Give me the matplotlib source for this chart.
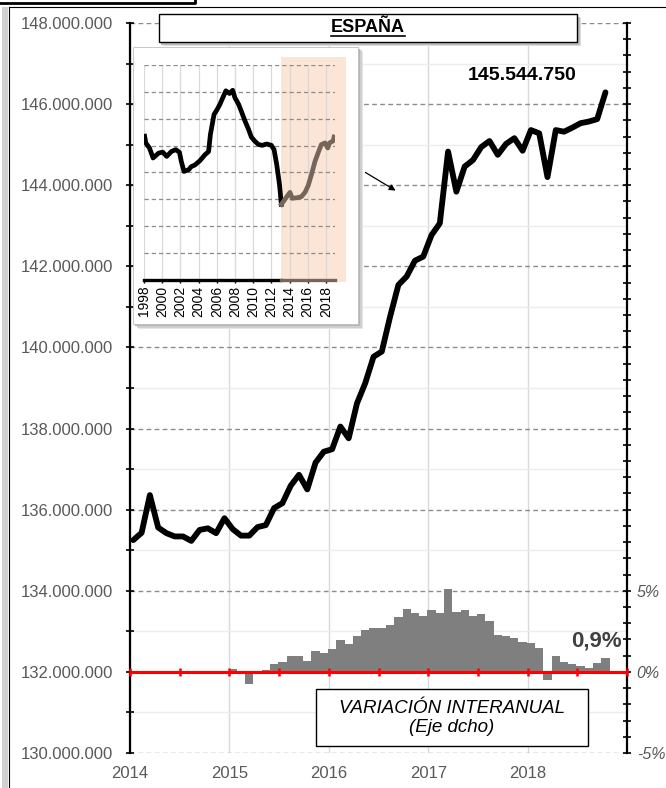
import numpy as np
import pandas as pd
import matplotlib
matplotlib.use('Agg')
import matplotlib.pyplot as plt
from matplotlib.patches import Rectangle
from matplotlib.lines import Line2D
from matplotlib.ticker import FuncFormatter, MultipleLocator

plt.rcParams['font.family'] = ['Liberation Sans', 'DejaVu Sans']

# serie mensual (millones), ene-2014 a oct-2018
fechas = pd.date_range('2014-01-01', periods=58, freq='MS')
valores = [135.25, 135.43, 136.36, 135.56, 135.42, 135.34, 135.34, 135.23, 135.50, 135.54,
           135.42, 135.79, 135.52, 135.36, 135.36, 135.57, 135.62, 136.04, 136.16, 136.59,
           136.86, 136.50, 137.16, 137.43, 137.49, 138.05, 137.76, 138.62, 139.12, 139.77,
           139.90, 140.76, 141.54, 141.75, 142.14, 142.24, 142.77, 143.06, 144.83, 143.84,
           144.46, 144.62, 144.94, 145.09, 144.75, 145.02, 145.16, 144.85, 145.36, 145.28,
           144.20, 145.36, 145.32, 145.42, 145.53, 145.57, 145.63, 146.29]

# variacion interanual (%), ene-2015 a oct-2018
var_interanual = [0.16, -0.05, -0.72, 0.02, 0.10, 0.47, 0.58, 1.00, 0.99, 0.68, 1.28, 1.19,
                  1.44, 1.95, 1.75, 2.22, 2.57, 2.70, 2.72, 2.92, 3.40, 3.85, 3.60, 3.44,
                  3.83, 3.64, 5.10, 3.72, 3.81, 3.46, 3.58, 3.13, 2.26, 2.24, 2.10, 1.83,
                  1.77, 1.50, -0.50, 1.00, 0.58, 0.51, 0.37, 0.27, 0.56, 0.84]

# grafico pequeno: serie larga
inset_anios_1 = [1998.07, 1998.2, 1998.6, 1999.0, 1999.6, 2000.05, 2000.5, 2001.0, 2001.5,
                 2001.9, 2002.1, 2002.4, 2002.9, 2003.2, 2003.6, 2004.15, 2004.7, 2005.1,
                 2005.3, 2005.7, 2006.05, 2006.35, 2006.7, 2007.0, 2007.4, 2007.75, 2008.0,
                 2008.4, 2008.7, 2009.1, 2009.5, 2009.8, 2010.2, 2010.6, 2011.0, 2011.5,
                 2012.0, 2012.3, 2012.6, 2012.9, 2013.1]
inset_valores_1 = [146.75, 145.5, 144.56, 142.7, 143.6, 143.8, 143.0, 143.9, 144.25,
                   143.75, 142.06, 140.2, 140.5, 141.1, 141.4, 142.2, 143.3, 143.9,
                   147.06, 150.8, 151.75, 152.7, 154.06, 155.2, 154.7, 155.3, 153.9,
                   152.7, 151.4, 149.6, 148.0, 146.6, 145.8, 145.2, 145.06, 145.3,
                   145.06, 144.25, 141.4, 137.7, 134.06]
inset_anios_2 = [2013.1, 2013.7, 2014.05, 2014.3, 2014.8, 2015.3, 2015.7, 2016.05, 2016.4,
                 2016.8, 2017.2, 2017.5, 2017.9, 2018.2, 2018.4, 2018.8, 2018.9]
inset_valores_2 = [134.06, 135.5, 136.3, 135.2, 135.3, 135.5, 136.3, 137.56, 139.56,
                   142.06, 143.9, 145.2, 145.5, 144.56, 145.5, 145.9, 146.6]

W, H = 666, 788
def fx(x):
    return x / W
def fy(y):
    return 1 - y / H

gris_txt = '#595959'
x_line = fechas.year + (fechas.month - 1 + 0.4) / 12
x_bar = x_line[12:]

fig = plt.figure(figsize=(W / 100, H / 100), dpi=100)

# marco del grafico
fig.add_artist(Rectangle((fx(2), fy(788)), fx(6), fy(7) - fy(788),
                         transform=fig.transFigure, color='#d0d0d0', lw=0))
fig.add_artist(Line2D([fx(8.5), fx(8.5)], [fy(7), fy(788)], color='black', lw=0.8))
fig.add_artist(Line2D([fx(8.5), fx(666)], [fy(7), fy(7)], color='black', lw=0.8))
fig.add_artist(Line2D([fx(0), fx(195), fx(195)], [fy(3), fy(3), fy(0)], color='black', lw=2))

ax = fig.add_axes([fx(130), fy(753), (627 - 130) / W, (753 - 23) / H])
ax.plot(x_line, valores, color='black', lw=4.2, solid_capstyle='round', zorder=4)
ax.set_xlim(2014, 2019)
ax.set_ylim(130, 148)
ax.set_yticks(np.arange(130, 149, 2))
ax.yaxis.set_minor_locator(MultipleLocator(1))
ax.yaxis.set_major_formatter(FuncFormatter(lambda v, p: f'{v * 1e6:,.0f}'.replace(',', '.')))
ax.set_xticks([2014, 2015, 2016, 2017, 2018])
ax.yaxis.grid(True, which='major', linestyle=(0, (3.4, 2.4)), color='#8c8c8c', lw=1)
ax.yaxis.grid(True, which='minor', color='#ececec', lw=1)
ax.xaxis.grid(True, color='#d9d9d9', lw=1)
ax.tick_params(axis='y', which='both', direction='inout', length=6, width=1.2,
               labelsize=12, labelcolor=gris_txt, pad=9)
ax.tick_params(axis='x', length=0, labelsize=12, labelcolor=gris_txt, pad=9)
for s in ['top', 'right', 'bottom']:
    ax.spines[s].set_visible(False)
ax.spines['left'].set_linewidth(1.6)

ax2 = ax.twinx()
ax2.bar(x_bar, var_interanual, width=1 / 12, color='#7f7f7f', edgecolor='none', zorder=2)
ax2.axhline(0, color='red', lw=2.2, zorder=3)
ax2.plot(np.arange(2014, 2019.01, 0.5), np.zeros(11), '|', color='red', ms=6, mew=1.8,
         zorder=3, clip_on=False)
ax2.set_ylim(-5, 40)
ax2.set_yticks(np.arange(-5, 41, 1))
ax2.yaxis.set_major_formatter(FuncFormatter(lambda v, p: f'{int(round(v))}%' if round(v) in (-5, 0, 5) else ''))
ax2.tick_params(axis='y', direction='inout', length=6, width=1.2, labelsize=11.5,
                labelcolor=gris_txt, pad=4)
plt.setp(ax2.get_yticklabels(), style='italic')
for s in ['top', 'left', 'bottom']:
    ax2.spines[s].set_visible(False)
ax2.spines['right'].set_linewidth(1.6)

# textos
fig.text(fx(468), fy(75), '145.544.750', fontsize=14, fontweight='bold', va='center', ha='left')
fig.text(fx(571), fy(641), '0,9%', fontsize=16, fontweight='bold', color='#404040',
         va='center', ha='left')
ax.annotate('', xy=(398, H - 192), xytext=(363, H - 171), xycoords='figure pixels',
            textcoords='figure pixels',
            arrowprops=dict(arrowstyle='-|>', color='black', lw=0.9, mutation_scale=9))

fig.add_artist(Rectangle((fx(316), fy(746)), fx(588) - fx(316), fy(689) - fy(746),
                         transform=fig.transFigure, fc='white', ec='black', lw=1, zorder=3))
fig.text(fx(452), fy(718), 'VARIACIÓN INTERANUAL\n(Eje dcho)', fontsize=13.5, style='italic',
         ha='center', va='center', linespacing=1.15, zorder=4)

# recuadro del grafico pequeno con sombra
for d, c in [(5, '#e6e6e6'), (3.5, '#cfcfcf'), (2, '#b5b5b5')]:
    fig.add_artist(Rectangle((fx(133 + d), fy(324 + d)), fx(358) - fx(133), fy(46.7) - fy(324),
                             transform=fig.transFigure, fc=c, ec='none', zorder=5))
fig.add_artist(Rectangle((fx(133), fy(324)), fx(358) - fx(133), fy(46.7) - fy(324),
                         transform=fig.transFigure, fc='white', ec='#bfbfbf', lw=0.6, zorder=5))

axi = fig.add_axes([fx(144), fy(280), (335 - 144) / W, (280 - 65) / H], zorder=6)
axi.patch.set_alpha(0)
axi.set_xlim(1998, 2019)
axi.set_ylim(120, 160)
axi.add_patch(Rectangle((2013.1, 119.6), 7.1, 41.9, fc='#fbe5d6', ec='none', clip_on=False,
                        zorder=0.2))
axi.plot(inset_anios_1, inset_valores_1, color='black', lw=3.4, zorder=3)
axi.plot(inset_anios_2, inset_valores_2, color='#76665a', lw=3.4, zorder=3)
axi.plot([1998, 2013.1], [120, 120], color='black', lw=2.4, clip_on=False, zorder=3)
axi.plot([2013.1, 2019], [120, 120], color='#76665a', lw=2.4, clip_on=False, zorder=3)
axi.set_yticks(np.arange(125, 161, 5))
axi.set_xticks(np.arange(1998, 2019, 2))
axi.set_xticklabels([str(a) for a in range(1998, 2019, 2)], rotation=90)
axi.set_axisbelow(True)
axi.yaxis.grid(True, linestyle=(0, (3.4, 2.4)), color='#8c8c8c', lw=0.9)
axi.xaxis.grid(True, color='#d9d9d9', lw=0.9)
axi.tick_params(axis='y', length=0, labelleft=False)
axi.tick_params(axis='x', length=2, width=1, labelsize=10, pad=2)
for s in axi.spines.values():
    s.set_visible(False)

# titulo
for d, c in [(4, '#dddddd'), (2.5, '#bdbdbd')]:
    fig.add_artist(Rectangle((fx(158.7 + d), fy(42.3 + d)), fx(577.3) - fx(158.7), fy(14) - fy(42.3),
                             transform=fig.transFigure, fc=c, ec='none', zorder=7))
fig.add_artist(Rectangle((fx(158.7), fy(42.3)), fx(577.3) - fx(158.7), fy(14) - fy(42.3),
                         transform=fig.transFigure, fc='white', ec='black', lw=1, zorder=7))
titulo = fig.text(fx(368), fy(28), 'ESPAÑA', fontsize=13, fontweight='bold', ha='center',
                  va='center', zorder=8)

fig.canvas.draw()
bb = titulo.get_window_extent()
fig.add_artist(Line2D([bb.x0 / W, bb.x1 / W], [(bb.y0 + 0.5) / H, (bb.y0 + 0.5) / H],
                      color='black', lw=1.2, zorder=8))

fig.savefig('out.png', dpi=100)
